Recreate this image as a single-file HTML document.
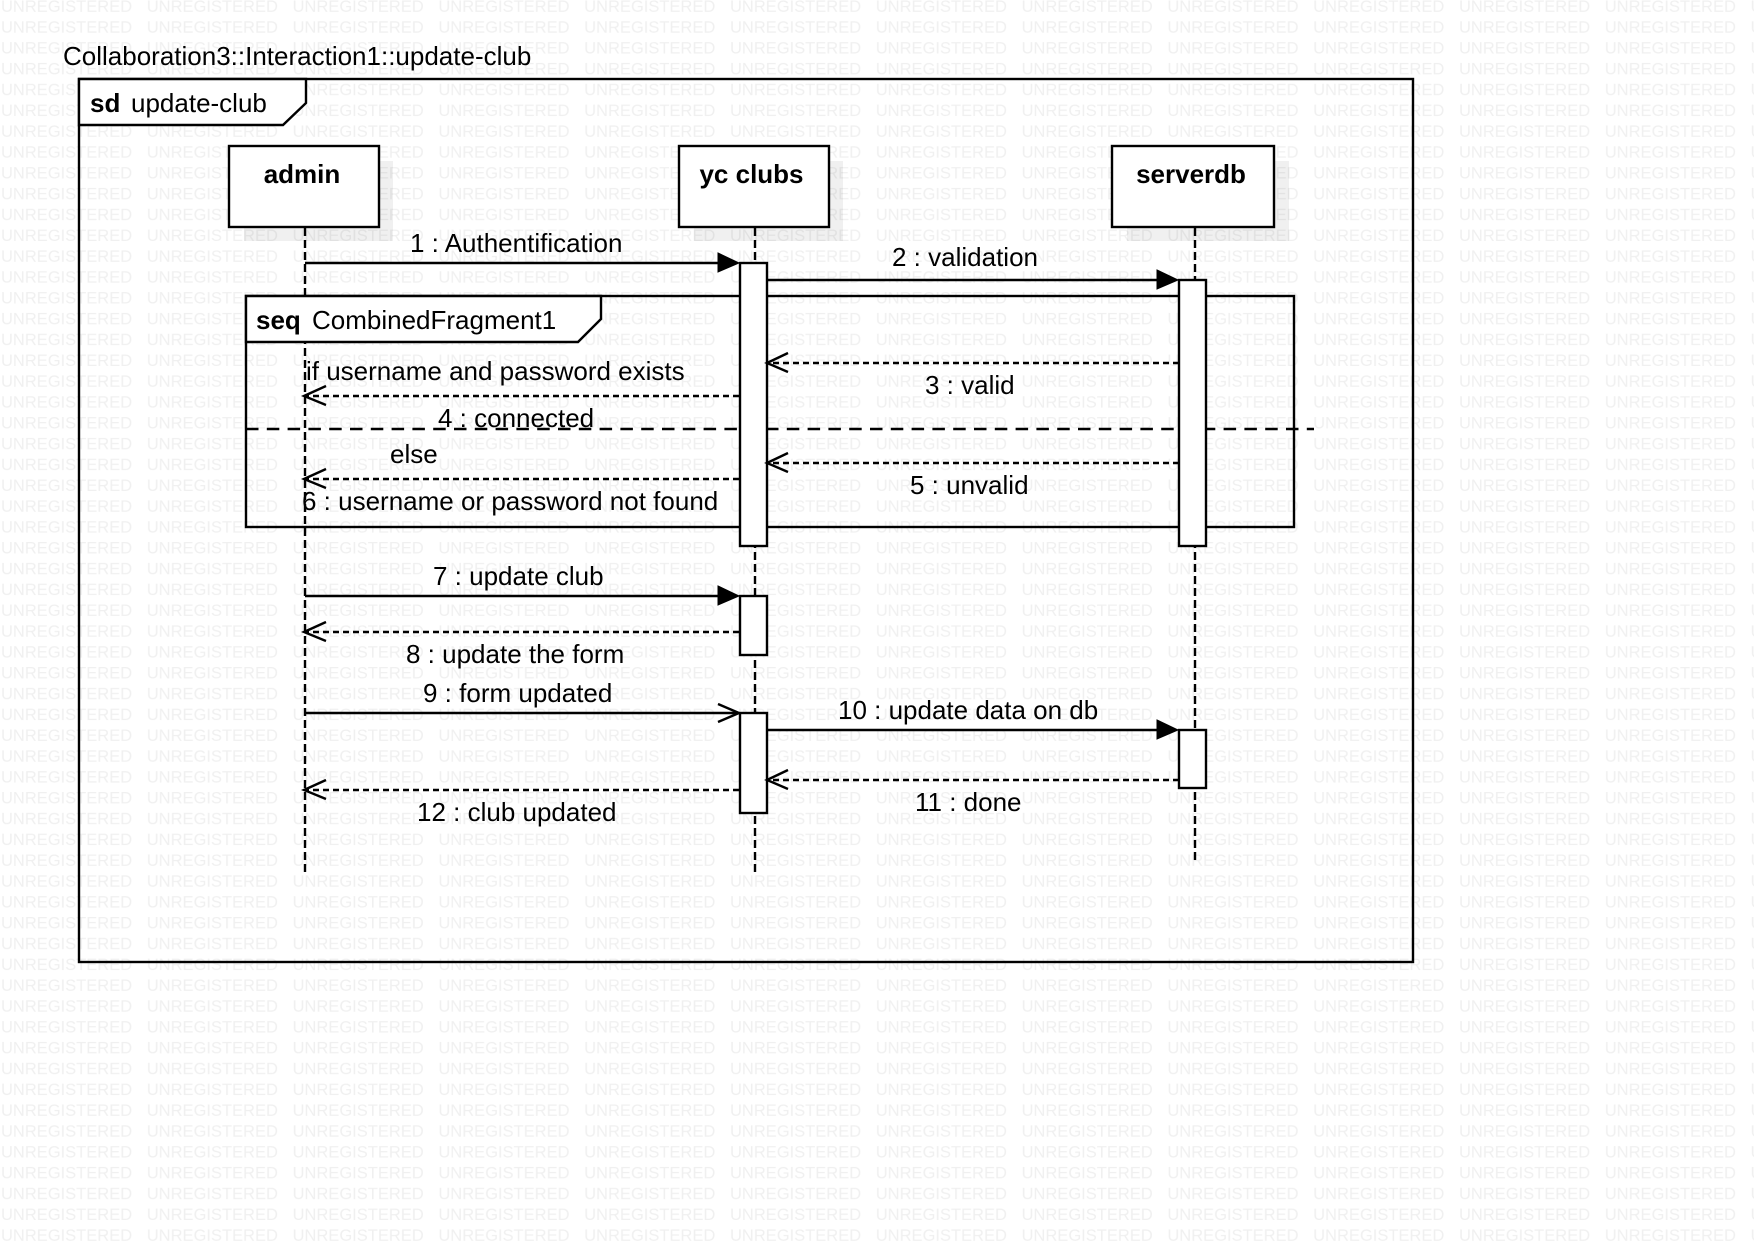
<!DOCTYPE html>
<html>
<head>
<meta charset="utf-8">
<style>
html,body{margin:0;padding:0;background:#fff;width:1754px;height:1241px;overflow:hidden}
svg{display:block}
text{font-family:"Liberation Sans",sans-serif;font-size:26px;fill:#000}
.b{font-weight:bold}
.l{fill:none;stroke:#000;stroke-width:2.4}
.box{fill:#fff;stroke:#000;stroke-width:2.4}
.life{fill:none;stroke:#000;stroke-width:2.4;stroke-dasharray:8 4}
.ret{fill:none;stroke:#000;stroke-width:2.4;stroke-dasharray:6 4}
.sh{fill:#000;fill-opacity:.06;stroke:none}
.wm{font-size:16.5px;fill:#f0f0f0}
.h{fill:#000;stroke:#000;stroke-width:1}
</style>
</head>
<body>
<svg width="1754" height="1241" viewBox="0 0 1754 1241" xmlns="http://www.w3.org/2000/svg">
<defs>
<pattern id="wm" patternUnits="userSpaceOnUse" x="1" y="-4" width="145.8" height="20.83">
<text class="wm" x="0" y="16">UNREGISTERED</text>
</pattern>
</defs>
<rect x="0" y="0" width="1754" height="1241" fill="#fff"/>
<rect x="0" y="0" width="1754" height="1241" fill="url(#wm)"/>

<text x="63" y="65">Collaboration3::Interaction1::update-club</text>

<!-- sd frame -->
<rect class="l" x="79" y="79" width="1334" height="883"/>
<path d="M79 79H306V103L283 125H79Z" class="box"/>
<text class="b" x="90" y="112">sd</text>
<text x="131" y="112">update-club</text>

<!-- actor shadows -->
<rect class="sh" x="244" y="161" width="149" height="80"/>
<rect class="sh" x="694" y="161" width="149" height="80"/>
<rect class="sh" x="1127" y="161" width="162" height="80"/>

<!-- lifelines -->
<path class="life" d="M305 228V873"/>
<path class="life" d="M755 228V873"/>
<path class="life" d="M1195 228V861"/>

<!-- actors -->
<rect class="box" x="229" y="146" width="150" height="81"/>
<text class="b" x="302" y="183" text-anchor="middle">admin</text>
<rect class="box" x="679" y="146" width="150" height="81"/>
<text class="b" x="751.5" y="183" text-anchor="middle">yc clubs</text>
<rect class="box" x="1112" y="146" width="162" height="81"/>
<text class="b" x="1191" y="183" text-anchor="middle">serverdb</text>

<!-- seq fragment -->
<rect class="l" x="246" y="296" width="1048" height="231"/>
<path d="M246 296H601V319L578 342H246Z" class="box"/>
<text class="b" x="256" y="329">seq</text>
<text x="312" y="329">CombinedFragment1</text>
<path class="l" d="M246 429H1314" stroke-dasharray="12.5 8.3"/>

<!-- activations -->
<rect class="box" x="740" y="263" width="27" height="283"/>
<rect class="box" x="1179" y="280" width="27" height="266"/>
<rect class="box" x="740" y="596" width="27" height="59"/>
<rect class="box" x="740" y="713" width="27" height="100"/>
<rect class="box" x="1179" y="730" width="27" height="58"/>

<!-- messages -->
<path class="l" d="M305 263H720"/>
<path class="h" d="M718 253L739 263L718 272Z"/>
<text x="410" y="252">1 : Authentification</text>

<path class="l" d="M767 280H1159"/>
<path class="h" d="M1157 270L1178 280L1157 289Z"/>
<text x="892" y="266">2 : validation</text>

<path class="ret" d="M1179 363H768"/>
<path class="l" d="M788 353L767 363L788 372"/>
<text x="925" y="394">3 : valid</text>

<path class="ret" d="M739 396H305"/>
<path class="l" d="M326 386L304 396L326 405"/>
<text x="306" y="380">if username and password exists</text>
<text x="438" y="427">4 : connected</text>
<text x="390" y="463">else</text>

<path class="ret" d="M1179 463H768"/>
<path class="l" d="M788 453L767 463L788 472"/>
<text x="910" y="494">5 : unvalid</text>

<path class="ret" d="M739 479H305"/>
<path class="l" d="M326 469L304 479L326 488"/>
<text x="302" y="510">6 : username or password not found</text>

<path class="l" d="M305 596H720"/>
<path class="h" d="M718 586L739 596L718 605Z"/>
<text x="433" y="585">7 : update club</text>

<path class="ret" d="M739 632H305"/>
<path class="l" d="M326 622L304 632L326 641"/>
<text x="406" y="663">8 : update the form</text>

<path class="l" d="M305 713H738"/>
<path class="l" d="M718 704L739 713L718 722"/>
<text x="423" y="702">9 : form updated</text>

<path class="l" d="M767 730H1159"/>
<path class="h" d="M1157 720L1178 730L1157 739Z"/>
<text x="838" y="719">10 : update data on db</text>

<path class="ret" d="M1179 780H768"/>
<path class="l" d="M788 770L767 780L788 789"/>
<text x="915" y="811">11 : done</text>

<path class="ret" d="M739 790H305"/>
<path class="l" d="M326 780L304 790L326 799"/>
<text x="417" y="821">12 : club updated</text>
</svg>
</body>
</html>
